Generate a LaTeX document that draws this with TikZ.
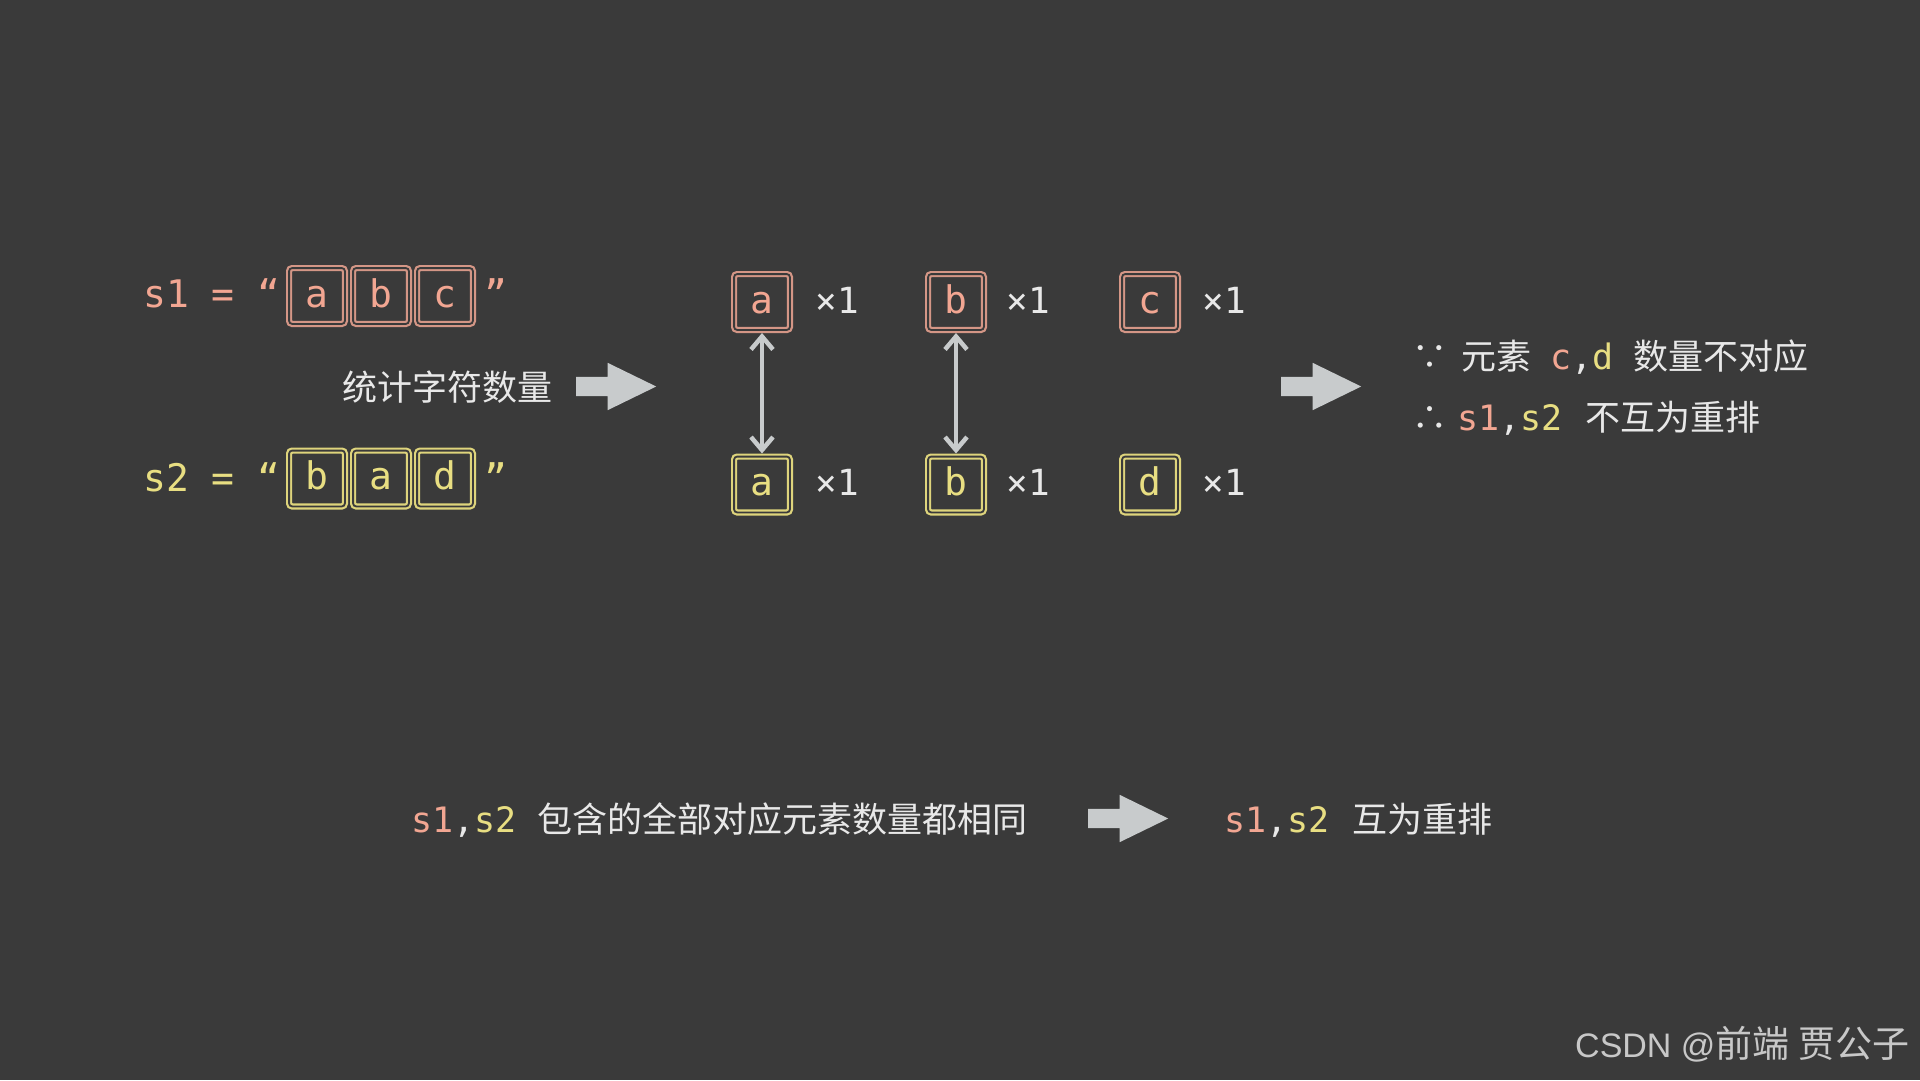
\documentclass[tikz,border=0pt]{standalone}
\usepackage{fontspec}
\setmainfont{Noto Sans CJK SC}
\setmonofont{DejaVu Sans Mono}
\newfontfamily\cjkfont{Noto Sans CJK SC}
\newfontfamily\markfont{Liberation Sans}
\usepackage{tikz}
\usetikzlibrary{positioning,arrows.meta,shapes.arrows}
\usepackage{xcolor}
\definecolor{bgdark}{RGB}{58,58,58}
\definecolor{salmontxt}{RGB}{242,166,146}
\definecolor{salmonline}{RGB}{212,150,134}
\definecolor{yellowtxt}{RGB}{232,222,130}
\definecolor{yellowline}{RGB}{222,212,124}
\definecolor{lighttxt}{RGB}{232,232,232}
\definecolor{arrowgray}{RGB}{200,203,204}
\definecolor{markgray}{RGB}{200,200,200}
\newcommand{\fsz}[1]{\fontsize{#1pt}{#1pt}\selectfont}

\begin{document}
\begin{tikzpicture}[
    x=1pt, y=-1pt,
    charbox/.style={rectangle, rounded corners=3pt, draw=#1, double=bgdark,
                    double distance=1.8pt, line width=2.2pt, minimum size=55.8pt,
                    inner sep=0pt, outer sep=0pt, text height=26pt, text depth=4pt,
                    font=\ttfamily\fsz{38}},
    s1box/.style={charbox=salmonline, text=salmontxt},
    s2box/.style={charbox=yellowline, text=yellowtxt},
    count/.style={inner sep=0pt, outer sep=0pt, text=lighttxt, text height=24pt,
                  text depth=2pt, font=\ttfamily\fsz{36}},
    codetxt/.style={inner sep=0pt, anchor=base west, font=\ttfamily\fsz{38}},
    cntext/.style={inner sep=0pt, anchor=base west, text=lighttxt, font=\fsz{35}},
    pairarrow/.style={draw=arrowgray, line width=4.5pt,
                      arrows={Straight Barb[length=13pt,width=22pt]-Straight Barb[length=13pt,width=22pt]},
                      shorten <=3.1pt, shorten >=3.1pt},
    bigarrow/.style={single arrow, fill=arrowgray, draw=none, inner sep=0pt,
                     inner ysep=9.5pt, minimum height=80pt, single arrow head extend=14pt,
                     single arrow tip angle=52, anchor=tail}
]

\fill[bgdark] (0,0) rectangle (1920,1080);

\node[codetxt, text=salmontxt] (s1lbl) at (143,307) {s1 = “};
\node[s1box] (s1a) at (317,296) {a};
\node[s1box, right=8.2pt of s1a] (s1b) {b};
\node[s1box, right=8.2pt of s1b] (s1c) {c};
\node[codetxt, text=salmontxt] (s1end) at (484,307) {”};

\node[codetxt, text=yellowtxt] (s2lbl) at (143,491) {s2 = “};
\node[s2box] (s2b) at (317,478.5) {b};
\node[s2box, right=8.2pt of s2b] (s2a) {a};
\node[s2box, right=8.2pt of s2a] (s2d) {d};
\node[codetxt, text=yellowtxt] (s2end) at (484,491) {”};

\node[cntext] (tally) at (342,400) {统计字符数量};
\node[bigarrow] (go1) at (576,386.5) {};

\node[s1box] (ta) at (762,302) {a};
\node[count, right=26pt of ta] (tca) {×1};
\node[s1box] (tb) at (956,302) {b};
\node[count, right=23pt of tb] (tcb) {×1};
\node[s1box] (tc) at (1150,302) {c};
\node[count, right=25pt of tc] (tcc) {×1};

\node[s2box] (ba) at (762,484.5) {a};
\node[count, right=26pt of ba] (bca) {×1};
\node[s2box] (bb) at (956,484.5) {b};
\node[count, right=23pt of bb] (bcb) {×1};
\node[s2box] (bd) at (1150,484.5) {d};
\node[count, right=25pt of bd] (bcd) {×1};

\draw[pairarrow] (ta.south) -- (ba.north);
\draw[pairarrow] (tb.south) -- (bb.north);

\node[bigarrow] (go2) at (1281,386.5) {};

\node[cntext] (since) at (1412,369)
      {\makebox[49pt][l]{∵}元素\hspace{19pt}{\ttfamily\color{salmontxt}c\color{lighttxt},\color{yellowtxt}d}\hspace{20pt}数量不对应};
\node[cntext] (hence) at (1412,430)
      {\makebox[45pt][l]{∴}{\ttfamily\color{salmontxt}s1\color{lighttxt},\color{yellowtxt}s2}\hspace{23pt}不互为重排};

\node[cntext] (rule) at (411,832)
      {{\ttfamily\color{salmontxt}s1\color{lighttxt},\color{yellowtxt}s2}\hspace{21pt}包含的全部对应元素数量都相同};
\node[bigarrow] (go3) at (1088,818.5) {};
\node[cntext] (result) at (1224,832)
      {{\ttfamily\color{salmontxt}s1\color{lighttxt},\color{yellowtxt}s2}\hspace{23pt}互为重排};

\node[inner sep=0pt, anchor=base west, text=markgray, font=\fsz{37}] (mark) at (1575,1057)
      {{\markfont\fsz{34}CSDN @}前端\hspace{9pt}贾公子};

\end{tikzpicture}
\end{document}
